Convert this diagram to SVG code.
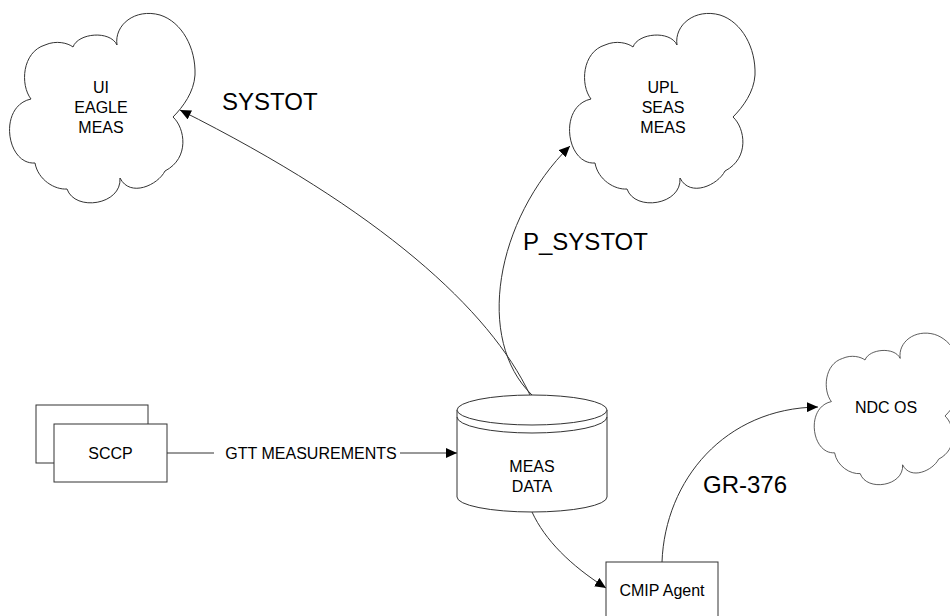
<svg xmlns="http://www.w3.org/2000/svg" width="950" height="616" viewBox="0 0 950 616">
<defs>
<style>
.ln{fill:none;stroke:#333;stroke-width:1}
.sh{fill:#fff;stroke:#333;stroke-width:1}
.cl{fill:#fff;stroke:#333;stroke-width:1;vector-effect:non-scaling-stroke}
.t{font-family:"Liberation Sans",Arial,sans-serif;font-size:16px;fill:#000;text-anchor:middle}
.big{font-family:"Liberation Sans",Arial,sans-serif;font-size:24px;fill:#000}
</style>
<marker id="ah" markerUnits="userSpaceOnUse" markerWidth="11" markerHeight="10" refX="11" refY="5" orient="auto">
<path d="M0,0 L11,5 L0,10 z" fill="#000"/>
</marker>
<path id="cloud" d="M31,99 C20,85 22,52 45,45 C56,40 68,43 73,47 C78,33 110,30 117,45 C114,25 135,8 160,15 C182,22 196,48 195,75 C194,92 183,107 173,117 C185,128 190,158 165,171 C158,185 130,198 120,178 C122,205 75,212 67,189 C55,190 38,180 35,163 C6,165 -2,106 31,99 Z"/>
</defs>
<rect width="950" height="616" fill="#fff"/>
<g id="connectors">
<path class="ln" d="M530,395 C490,310 380,210 180,110" marker-end="url(#ah)"/>
<path class="ln" d="M532,395 C475,340 495,220 570,146" marker-end="url(#ah)"/>
<path class="ln" d="M167,453 L214,453 M400,453 L457,453" marker-end="url(#ah)"/>
<path class="ln" d="M532,512 C545,540 570,565 606,588" marker-end="url(#ah)"/>
<path class="ln" d="M662,562 C665,480 725,408 818,407" marker-end="url(#ah)"/>
<text class="t" x="311" y="459">GTT MEASUREMENTS</text>
<text class="big" x="222" y="110">SYSTOT</text>
<text class="big" x="523" y="250">P_SYSTOT</text>
<text class="big" x="703" y="493">GR-376</text>
</g>
<g id="ui-eagle-meas">
<use href="#cloud" class="cl"/>
<text class="t" x="101" y="93">UI</text>
<text class="t" x="101" y="113">EAGLE</text>
<text class="t" x="101" y="133">MEAS</text>
</g>
<g id="upl-seas-meas">
<use href="#cloud" class="cl" transform="translate(560,0)"/>
<text class="t" x="663" y="93">UPL</text>
<text class="t" x="663" y="113">SEAS</text>
<text class="t" x="663" y="133">MEAS</text>
</g>
<g id="ndc-os">
<use href="#cloud" class="cl" transform="translate(806.6,322.4) scale(0.8)"/>
<text class="t" x="886" y="413">NDC OS</text>
</g>
<g id="sccp">
<rect class="sh" x="36" y="405" width="112" height="58"/>
<rect class="sh" x="54" y="424" width="113" height="58"/>
<text class="t" x="110.5" y="459">SCCP</text>
</g>
<g id="meas-data">
<path class="sh" d="M457,410 L457,497 A75,15 0 0 0 607,497 L607,410"/>
<ellipse class="sh" cx="532" cy="410" rx="75" ry="15"/>
<path class="ln" d="M457,417 A75,16 0 0 0 607,417"/>
<text class="t" x="532" y="472">MEAS</text>
<text class="t" x="532" y="492">DATA</text>
</g>
<g id="cmip-agent">
<rect class="sh" x="606" y="562" width="112" height="60"/>
<text class="t" x="662" y="596">CMIP Agent</text>
</g>
</svg>
